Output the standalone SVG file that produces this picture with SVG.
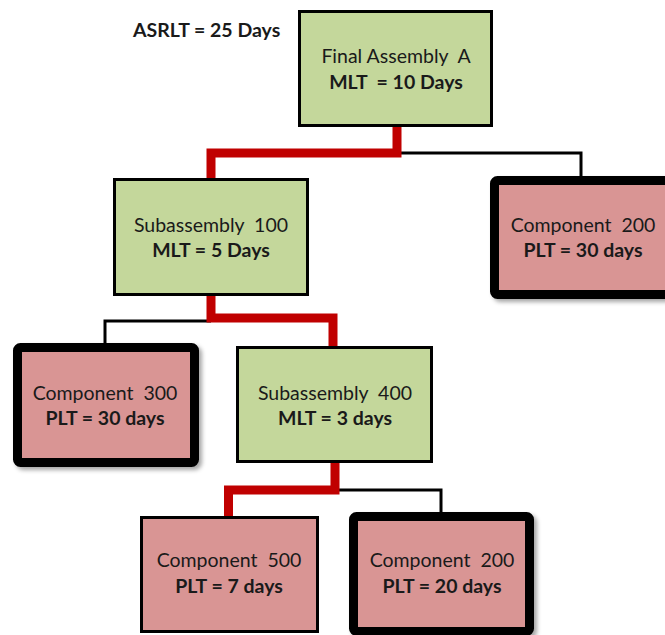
<svg xmlns="http://www.w3.org/2000/svg" width="665" height="635" viewBox="0 0 665 635" xml:space="preserve">
  <defs>
    <filter id="shadow" x="-10%" y="-10%" width="130%" height="130%">
      <feDropShadow dx="3" dy="3" stdDeviation="2" flood-color="#000" flood-opacity="0.35"/>
    </filter>
  </defs>
  <style>
    .asm { fill: #c4d79b; stroke: #000; stroke-width: 3; }
    .part { fill: #d99594; stroke: #000; stroke-width: 3; }
    .part-thick { fill: #d99594; stroke: #000; stroke-width: 9; filter: url(#shadow); }
    .t { font-family: Lato, "Liberation Sans", sans-serif; font-size: 19.5px; fill: #1a1a1a; text-anchor: middle; white-space: pre; }
    .b { font-weight: bold; }
    .wire { fill: none; stroke: #000; stroke-width: 3; }
    .crit { fill: none; stroke: #c00000; stroke-width: 9; }
  </style>

  <text class="t b" x="133" y="37" style="text-anchor:start">ASRLT = 25 Days</text>

  <!-- connectors: black tree links, red critical path drawn on top -->
  <g id="connectors">
    <path class="wire" d="M397,153 H581 V178"/>
    <path class="wire" d="M211,321 H105 V343"/>
    <path class="wire" d="M336,490 H441 V512"/>
    <path class="crit" d="M397,126 V153 H211 V179"/>
    <path class="crit" d="M211,295 V318 H333 V347"/>
    <path class="crit" d="M335,462 V490 H228.5 V517"/>
  </g>

  <g id="final-assembly-a">
    <rect class="asm" x="299.5" y="11.5" width="192" height="114"/>
    <text class="t" x="396" y="63">Final Assembly  A</text>
    <text class="t b" x="396" y="89">MLT  = 10 Days</text>
  </g>

  <g id="subassembly-100">
    <rect class="asm" x="114.5" y="179.5" width="193" height="115"/>
    <text class="t" x="211" y="232">Subassembly  100</text>
    <text class="t b" x="211" y="257">MLT = 5 Days</text>
  </g>

  <g id="component-200-top">
    <rect class="part-thick" x="494.5" y="180.5" width="180" height="114" rx="3"/>
    <text class="t" x="583" y="232">Component  200</text>
    <text class="t b" x="583" y="257">PLT = 30 days</text>
  </g>

  <g id="component-300">
    <rect class="part-thick" x="17.5" y="347.5" width="177" height="115" rx="3"/>
    <text class="t" x="105" y="400">Component  300</text>
    <text class="t b" x="105" y="425">PLT = 30 days</text>
  </g>

  <g id="subassembly-400">
    <rect class="asm" x="237.5" y="347.5" width="194" height="114"/>
    <text class="t" x="335" y="400">Subassembly  400</text>
    <text class="t b" x="335" y="425">MLT = 3 days</text>
  </g>

  <g id="component-500">
    <rect class="part" x="141.5" y="517.5" width="176" height="114"/>
    <text class="t" x="229" y="567">Component  500</text>
    <text class="t b" x="229" y="593">PLT = 7 days</text>
  </g>

  <g id="component-200-bottom">
    <rect class="part-thick" x="353.5" y="516.5" width="176" height="115" rx="3"/>
    <text class="t" x="442" y="567">Component  200</text>
    <text class="t b" x="442" y="593">PLT = 20 days</text>
  </g>
</svg>
